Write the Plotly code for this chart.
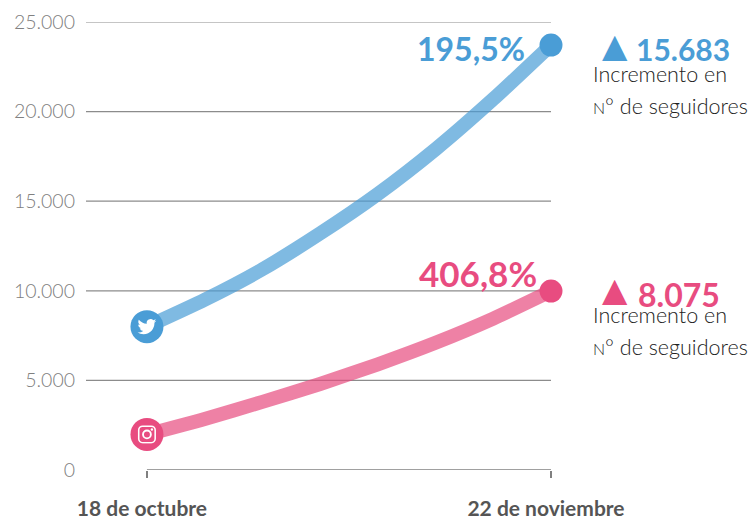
import base64
import plotly.graph_objects as go

days = [0, 5, 10, 15, 20, 25, 30, 35]
twitter = [8000, 9500, 11200, 13200, 15400, 17900, 20700, 23715]
instagram = [1985, 2850, 3800, 4800, 5900, 7100, 8450, 9985]
x_tickvals = [0, 35]
x_ticktext = ["18 de octubre", "22 de noviembre"]
y_ticks = [0, 5000, 10000, 15000, 20000, 25000]
y_labels = ["0", "5.000", "10.000", "15.000", "20.000", "25.000"]
grid_values = [5000, 10000, 15000, 20000, 25000]
twitter_pct = "195,5%"
instagram_pct = "406,8%"
twitter_inc = "15.683"
instagram_inc = "8.075"

BLUE = "#4a9dd6"
PINK = "#e84c80"
FONT = "Lato"
XMIN = -5.28

twitter_svg = ('<svg xmlns="http://www.w3.org/2000/svg" viewBox="0 0 24 24"><path fill="white" d="M23.95 4.57a10 10 0 0 1-2.82.77 '
               '4.96 4.96 0 0 0 2.16-2.72c-.95.55-2 .96-3.13 1.18a4.92 4.92 0 0 0-8.38 4.48C7.69 8.09 4.07 6.13 1.64 3.16a4.82 4.82 0 0 0-.67 '
               '2.48c0 1.71.87 3.21 2.19 4.1a4.9 4.9 0 0 1-2.23-.62v.06a4.92 4.92 0 0 0 3.95 4.83 4.99 4.99 0 0 1-2.21.08 4.93 4.93 0 0 0 '
               '4.6 3.42A9.87 9.87 0 0 1 0 19.54a13.94 13.94 0 0 0 7.55 2.21c9.05 0 14-7.5 14-13.98 0-.21 0-.42-.02-.63a9.94 9.94 0 0 0 2.46-2.55z"/></svg>')
insta_svg = ('<svg xmlns="http://www.w3.org/2000/svg" viewBox="0 0 24 24"><g fill="none" stroke="white">'
             '<rect x="1.5" y="1.5" width="21" height="21" rx="5" stroke-width="2"/>'
             '<circle cx="12" cy="12" r="5" stroke-width="2.4"/></g>'
             '<circle cx="18.3" cy="5.7" r="1.5" fill="white"/></svg>')


def data_uri(svg):
    return "data:image/svg+xml;base64," + base64.b64encode(svg.encode()).decode()


fig = go.Figure()

gx, gy = [], []
for v in grid_values:
    gx += [XMIN, 35, None]
    gy += [v, v, None]
fig.add_trace(go.Scatter(x=gx, y=gy, mode="lines", line=dict(color="#8c8c8c", width=1.2), hoverinfo="skip", cliponaxis=False))
fig.add_trace(go.Scatter(x=[0, 35], y=[0, 0], mode="lines", line=dict(color="#808080", width=1.5), hoverinfo="skip", cliponaxis=False))

for vals, col in ((twitter, BLUE), (instagram, PINK)):
    fig.add_trace(go.Scatter(x=days, y=vals, mode="lines", opacity=0.7,
                             line=dict(color=col, width=14, shape="spline", smoothing=0.6),
                             cliponaxis=False))
    fig.add_trace(go.Scatter(x=[days[0]], y=[vals[0]], mode="markers", marker=dict(color=col, size=33), cliponaxis=False))
    fig.add_trace(go.Scatter(x=[days[-1]], y=[vals[-1]], mode="markers", marker=dict(color=col, size=23), cliponaxis=False))


def note(y, text, xshift, yshift, size, color, xanchor="left", bold=False, family=FONT, weight=None):
    fig.add_annotation(x=35, y=y, xref="x", yref="y", text=f"<b>{text}</b>" if bold else text, showarrow=False,
                       xanchor=xanchor, yanchor="middle", xshift=xshift, yshift=yshift,
                       font=dict(family=family, size=size, color=color, weight=weight))


SMALL_N = '<span style="font-size:16px">N</span>° de seguidores'
t_end, i_end = twitter[-1], instagram[-1]
note(t_end, twitter_pct, -24, -3, 32, BLUE, "right", True)
note(t_end, "▲", 49, 0, 33, BLUE, "left", False, "DejaVu Sans")
note(t_end, twitter_inc, 83, -4, 30, BLUE, "left", True)
note(t_end, "Incremento en", 40, -29, 21.5, "#222222", weight=300)
note(t_end, SMALL_N, 40, -61, 21.5, "#222222", weight=300)
note(i_end, instagram_pct, -12, 18, 35, PINK, "right", True)
note(i_end, "▲", 49, 2, 33, PINK, "left", False, "DejaVu Sans")
note(i_end, instagram_inc, 85, -3, 32, PINK, "left", True)
note(i_end, "Incremento en", 40, -24, 21.5, "#222222", weight=300)
note(i_end, SMALL_N, 40, -56, 21.5, "#222222", weight=300)

for uri, val in ((twitter_svg, twitter[0]), (insta_svg, instagram[0])):
    fig.add_layout_image(source=data_uri(uri), xref="x", yref="y", x=days[0], y=val,
                         sizex=1.9, sizey=1050, xanchor="center", yanchor="middle", layer="above", sizing="contain")

fig.update_layout(
    width=752, height=519, showlegend=False, hovermode=False,
    margin=dict(l=86, r=201, t=22.2, b=49, autoexpand=False),
    paper_bgcolor="white", plot_bgcolor="white",
    xaxis=dict(range=[XMIN, 35], tickmode="array", tickvals=x_tickvals, ticktext=x_ticktext, showgrid=False, zeroline=False,
               showline=False, ticks="outside", ticklen=7, tickwidth=1.5, tickcolor="#808080",
               ticklabelstandoff=13, ticklabelshift=-5,
               tickfont=dict(family=FONT, size=21, color="#555555", weight=700)),
    yaxis=dict(range=[0, 25000], tickmode="array", tickvals=y_ticks, ticktext=y_labels, showgrid=False, zeroline=False,
               showline=False, ticks="", ticklabelstandoff=10,
               tickfont=dict(family=FONT, size=19.5, color="#808080", weight=300)),
)
fig.write_html("out.html", config={"displayModeBar": False},
               post_script="document.body.style.margin='0';document.body.style.overflow='hidden';")
